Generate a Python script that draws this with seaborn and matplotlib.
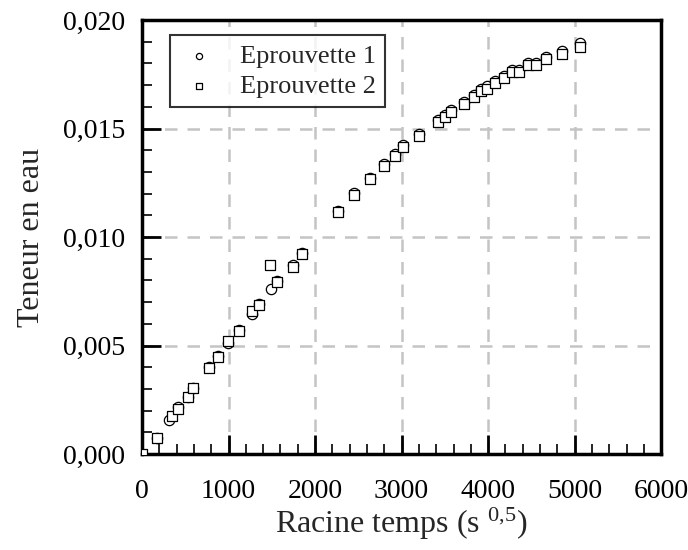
import seaborn as sns
import matplotlib.pyplot as plt
import matplotlib.ticker as mticker
import pandas as pd

# racine du temps (s^0.5) et teneur en eau
x_ep1 = [0, 173, 312, 416, 532, 590, 775, 879, 994, 1121, 1272, 1353, 1488, 1564, 1749, 1850,
         2262, 2454, 2639, 2801, 2919, 3021, 3202, 3416, 3503, 3576, 3723, 3840, 3916, 3985,
         4075, 4185, 4274, 4358, 4466, 4552, 4671, 4855, 5064]
y_ep1 = [0.0, 0.00076, 0.00157, 0.00217, 0.00265, 0.00306, 0.00402, 0.00452, 0.0051, 0.00572,
         0.00645, 0.00692, 0.0076, 0.00798, 0.0087, 0.00925, 0.01122, 0.01204, 0.01273, 0.01337,
         0.01381, 0.01424, 0.01474, 0.0154, 0.01564, 0.01586, 0.01624, 0.01655, 0.01682, 0.01694,
         0.01718, 0.01744, 0.01769, 0.0177, 0.01801, 0.01801, 0.01831, 0.01855, 0.01893]

x_ep2 = [0, 173, 347, 416, 532, 590, 775, 879, 994, 1121, 1272, 1353, 1483, 1564, 1749, 1850,
         2262, 2454, 2639, 2801, 2919, 3021, 3202, 3416, 3503, 3576, 3723, 3840, 3916, 3985,
         4075, 4185, 4274, 4358, 4466, 4552, 4671, 4855, 5064]
y_ep2 = [0.0, 0.00072, 0.00175, 0.00208, 0.00261, 0.00302, 0.00398, 0.00445, 0.0052, 0.00568,
         0.0066, 0.00688, 0.0087, 0.00792, 0.00862, 0.0092, 0.01117, 0.01192, 0.01266, 0.01328,
         0.01372, 0.01415, 0.01466, 0.01531, 0.01555, 0.01577, 0.01615, 0.01646, 0.01672, 0.01684,
         0.01708, 0.01734, 0.01759, 0.0176, 0.01791, 0.01791, 0.0182, 0.01845, 0.01877]

df1 = pd.DataFrame({'x': x_ep1, 'y': y_ep1})
df2 = pd.DataFrame({'x': x_ep2, 'y': y_ep2})

sns.set_style('white')
plt.rcParams['font.family'] = ['Liberation Serif', 'DejaVu Serif']
plt.rcParams['mathtext.fontset'] = 'custom'
plt.rcParams['mathtext.rm'] = 'Liberation Serif'
plt.rcParams['mathtext.it'] = 'Liberation Serif'
plt.rcParams['mathtext.default'] = 'regular'

fig = plt.figure(figsize=(6.88, 5.5), dpi=100)
ax = fig.add_axes([0.2064, 0.1745, 0.7546, 0.7891])

sns.scatterplot(data=df1, x='x', y='y', ax=ax, marker='o', s=55, color='white',
                edgecolor='black', linewidth=0.9, label='Eprouvette 1', zorder=3)
sns.scatterplot(data=df2, x='x', y='y', ax=ax, marker='s', s=45, color='white',
                edgecolor='black', linewidth=0.9, label='Eprouvette 2', zorder=4)

ax.set_xlim(0, 6000)
ax.set_ylim(0, 0.020)
ax.xaxis.set_major_locator(mticker.MultipleLocator(1000))
ax.xaxis.set_minor_locator(mticker.MultipleLocator(200))
ax.yaxis.set_major_locator(mticker.MultipleLocator(0.005))
ax.yaxis.set_minor_locator(mticker.MultipleLocator(0.001))
ax.yaxis.set_major_formatter(mticker.FuncFormatter(lambda v, p: f'{v:.3f}'.replace('.', ',')))

ax.grid(True, which='major', color='#c4c4c4', linestyle=(0, (5, 4)), linewidth=1.8, zorder=0)
ax.set_axisbelow(True)

ax.tick_params(which='both', direction='in', left=True, bottom=True, top=False, right=False,
               colors='black', labelsize=20, width=1.2)
ax.tick_params(which='major', length=14, width=2)
ax.tick_params(axis='y', which='major', pad=12)
ax.tick_params(axis='x', which='major', pad=18)
ax.tick_params(which='minor', length=7)
for side in ax.spines.values():
    side.set_color('black')
    side.set_linewidth(2.5)

ax.set_xlabel('Racine temps (s $^{0{,}5}$)', fontsize=23, labelpad=1)
ax.set_ylabel('Teneur en eau', fontsize=23, labelpad=12)

leg = ax.legend(loc='upper left', bbox_to_anchor=(0.054, 0.965), borderaxespad=0, fontsize=19,
                frameon=True, fancybox=False, edgecolor='black', markerscale=0.6,
                handletextpad=0.8, borderpad=0.35, labelspacing=0.25, handlelength=1.5)
leg.get_frame().set_linewidth(1.5)

fig.savefig('out.png', dpi=100)
